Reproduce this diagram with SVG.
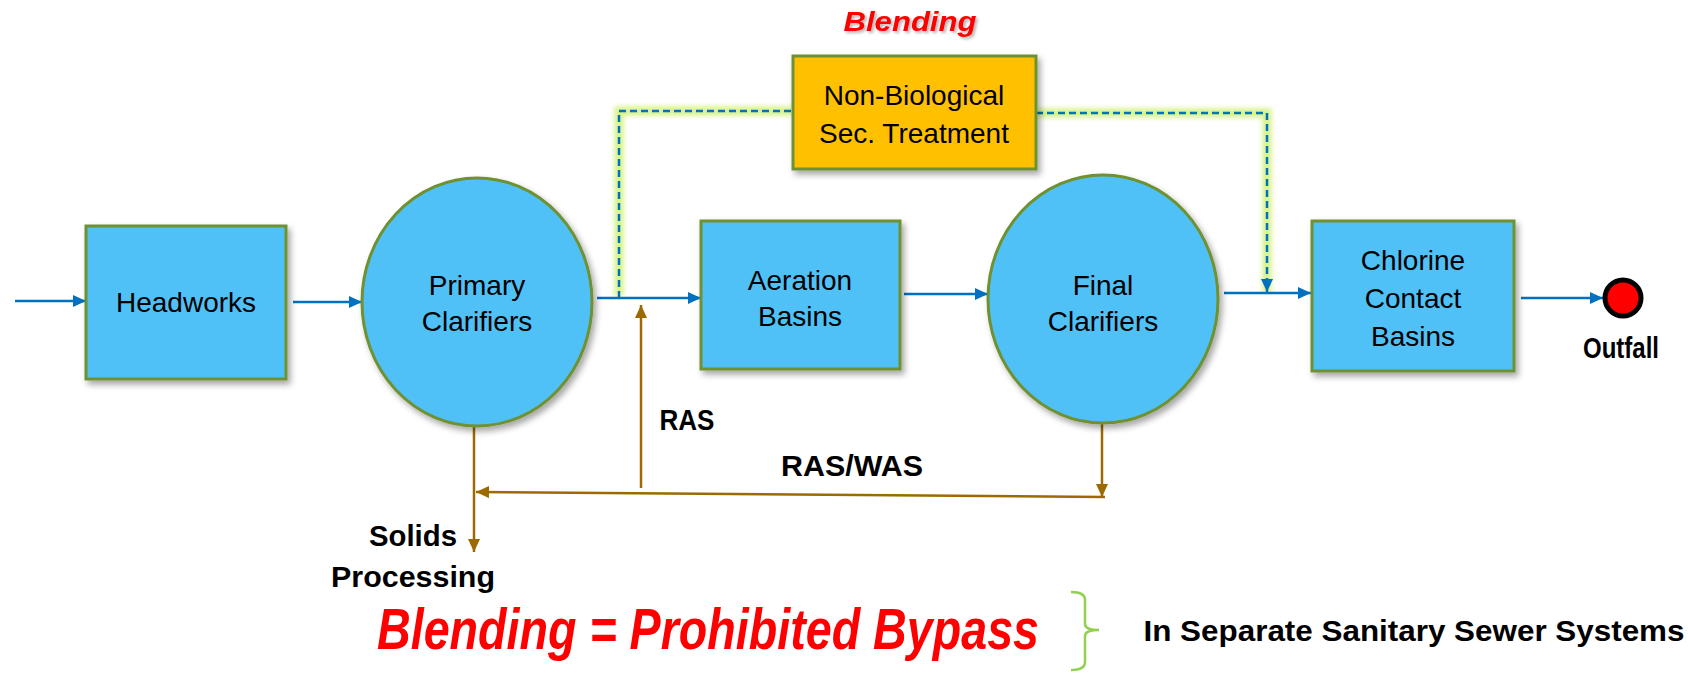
<svg xmlns="http://www.w3.org/2000/svg" width="1688" height="674" viewBox="0 0 1688 674">
<defs>
<style>
.box{fill:#50C1F6;stroke:#6F9130;stroke-width:3}
.nb{fill:#FFC000;stroke:#6F9130;stroke-width:3}
.t{font-family:"Liberation Sans",Arial,sans-serif;font-size:28px;fill:#000;text-anchor:middle}
.b{font-family:"Liberation Sans",Arial,sans-serif;font-weight:bold;fill:#000;text-anchor:middle}
.red{font-family:"Liberation Sans",Arial,sans-serif;font-weight:bold;font-style:italic;fill:#FF0000;text-anchor:middle}
.flow{fill:none;stroke:#0070C0;stroke-width:2.5}
.brown{fill:none;stroke:#9C6A00;stroke-width:2.5}
.glow{fill:none;stroke:#C8EE5C;stroke-width:9;opacity:0.75}
.dash{fill:none;stroke:#0070C0;stroke-width:2.5;stroke-dasharray:7 4}
</style>
<filter id="sh" x="-20%" y="-20%" width="140%" height="140%">
<feDropShadow dx="3" dy="4" stdDeviation="3" flood-color="#000" flood-opacity="0.35"/>
</filter>
<filter id="gb" x="-10%" y="-10%" width="120%" height="120%">
<feGaussianBlur stdDeviation="2.5"/>
</filter>
<filter id="ts" x="-10%" y="-30%" width="120%" height="160%">
<feDropShadow dx="2" dy="2" stdDeviation="1.5" flood-color="#000" flood-opacity="0.3"/>
</filter>
<marker id="ab" markerUnits="userSpaceOnUse" markerWidth="14" markerHeight="12" refX="13" refY="6" orient="auto">
<path d="M0,0 L13,6 L0,12 z" fill="#0070C0"/>
</marker>
<marker id="ar" markerUnits="userSpaceOnUse" markerWidth="14" markerHeight="12" refX="13" refY="6" orient="auto">
<path d="M0,0 L13,6 L0,12 z" fill="#9C6A00"/>
</marker>
</defs>
<rect width="1688" height="674" fill="#fff"/>

<g id="connectors">
<path class="glow" filter="url(#gb)" d="M619,296 V111 H793 M1036,113 H1267 V293"/>
<path class="dash" d="M619,298 V111 H793"/>
<path class="dash" d="M1036,113 H1267 V292" marker-end="url(#ab)"/>
<path class="flow" d="M15,301 H86" marker-end="url(#ab)"/>
<path class="flow" d="M293,302 H362" marker-end="url(#ab)"/>
<path class="flow" d="M597,298 H701" marker-end="url(#ab)"/>
<path class="flow" d="M904,294 H988" marker-end="url(#ab)"/>
<path class="flow" d="M1224,293 H1311" marker-end="url(#ab)"/>
<path class="flow" d="M1521,298 H1603" marker-end="url(#ab)"/>
<path class="brown" d="M474,423 V552" marker-end="url(#ar)"/>
<path class="brown" d="M1105,497 L476,492" marker-end="url(#ar)"/>
<path class="brown" d="M1102,423 V497" marker-end="url(#ar)"/>
<path class="brown" d="M641,488 V305" marker-end="url(#ar)"/>
</g>

<g id="headworks">
<rect class="box" x="86" y="226" width="200" height="153" filter="url(#sh)"/>
<text class="t" x="186" y="312">Headworks</text>
</g>
<g id="primary">
<ellipse class="box" cx="477" cy="302" rx="115" ry="124" filter="url(#sh)"/>
<text class="t" x="477" y="295">Primary</text>
<text class="t" x="477" y="331">Clarifiers</text>
</g>
<g id="aeration">
<rect class="box" x="701" y="221" width="199" height="148" filter="url(#sh)"/>
<text class="t" x="800" y="290">Aeration</text>
<text class="t" x="800" y="326">Basins</text>
</g>
<g id="final">
<ellipse class="box" cx="1103" cy="299" rx="115" ry="124" filter="url(#sh)"/>
<text class="t" x="1103" y="295">Final</text>
<text class="t" x="1103" y="331">Clarifiers</text>
</g>
<g id="chlorine">
<rect class="box" x="1312" y="221" width="202" height="150" filter="url(#sh)"/>
<text class="t" x="1413" y="270">Chlorine</text>
<text class="t" x="1413" y="308">Contact</text>
<text class="t" x="1413" y="346">Basins</text>
</g>
<g id="nonbio">
<rect class="nb" x="793" y="56" width="243" height="113" filter="url(#sh)"/>
<text class="t" x="914" y="105">Non-Biological</text>
<text class="t" x="914" y="143">Sec. Treatment</text>
</g>
<g id="outfall">
<circle cx="1623" cy="298" r="18" fill="#FF0000" stroke="#000" stroke-width="5"/>
<text class="b" x="1621" y="358" font-size="29" textLength="76" lengthAdjust="spacingAndGlyphs">Outfall</text>
</g>

<g id="labels">
<text class="red" x="910" y="31" font-size="28" textLength="133" lengthAdjust="spacingAndGlyphs" filter="url(#ts)">Blending</text>
<text class="b" x="687" y="430" font-size="29" textLength="55" lengthAdjust="spacingAndGlyphs">RAS</text>
<text class="b" x="852" y="476" font-size="29" textLength="142" lengthAdjust="spacingAndGlyphs">RAS/WAS</text>
<text class="b" x="413" y="546" font-size="30" textLength="88" lengthAdjust="spacingAndGlyphs">Solids</text>
<text class="b" x="413" y="587" font-size="30" textLength="164" lengthAdjust="spacingAndGlyphs">Processing</text>
<text class="red" transform="translate(708,649) scale(1,1.24)" x="0" y="0" font-size="47" textLength="662" lengthAdjust="spacingAndGlyphs">Blending = Prohibited Bypass</text>
<path d="M1071,592 Q1085,592 1085,600 V624 Q1085,630 1099,630 Q1085,630 1085,636 V662 Q1085,670 1071,670" fill="none" stroke="#92D050" stroke-width="2.5"/>
<text class="b" x="1414" y="641" font-size="29" textLength="541" lengthAdjust="spacingAndGlyphs">In Separate Sanitary Sewer Systems</text>
</g>
</svg>
